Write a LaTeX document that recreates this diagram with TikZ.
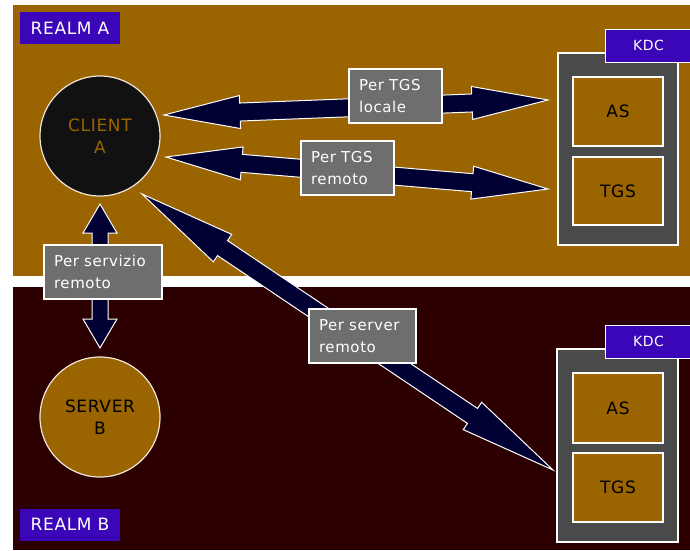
\documentclass[tikz,border=0pt]{standalone}
\usepackage{fontspec}
\setmainfont{DejaVu Sans}[LetterSpace=4.0]
\usetikzlibrary{calc}

\definecolor{realmAbg}{HTML}{9A6400}
\definecolor{realmBbg}{HTML}{2C0000}
\definecolor{tagblue}{HTML}{3A06B8}
\definecolor{kdcgray}{HTML}{4A4A4A}
\definecolor{lblgray}{HTML}{6E6E6E}
\definecolor{arrownavy}{HTML}{000033}
\definecolor{clientblack}{HTML}{111111}
\definecolor{rim}{HTML}{F0E6D8}

% Double-headed block arrow between two named points:
% #1,#2 tips, #3 head length, #4 head half width, #5 shaft half width
\newcommand\dblarrow[5]{%
  \path ($(#1)!#3!(#2)$) coordinate (da-p) ($(#2)!#3!(#1)$) coordinate (da-q);
  \filldraw[arrowbody] (#1)
    -- ($(da-p)!#4!90:(#2)$) -- ($(da-p)!#5!90:(#2)$)
    -- ($(da-q)!#5!-90:(#1)$) -- ($(da-q)!#4!-90:(#1)$)
    -- (#2)
    -- ($(da-q)!#4!90:(#1)$) -- ($(da-q)!#5!90:(#1)$)
    -- ($(da-p)!#5!-90:(#2)$) -- ($(da-p)!#4!-90:(#2)$)
    -- cycle;
}

\begin{document}
\begin{tikzpicture}[x=1pt,y=-1pt,
  realmtag/.style={fill=tagblue, text=white, inner sep=0pt,
    minimum width=100pt, minimum height=32pt, font=\fontsize{17}{20}\selectfont},
  kdctag/.style={fill=tagblue, draw=white, line width=1pt, text=white, inner sep=0pt,
    minimum width=87pt, minimum height=33pt, font=\fontsize{14}{16}\selectfont},
  kdcframe/.style={fill=kdcgray, draw=white, line width=1.5pt, inner sep=0pt,
    minimum width=120pt, minimum height=192pt},
  service/.style={fill=realmAbg, draw=white, line width=1.5pt, inner sep=0pt,
    minimum width=90pt, minimum height=69pt, text=black, font=\fontsize{17}{20}\selectfont},
  host/.style={circle, draw=rim, line width=1.2pt, minimum size=120pt, inner sep=0pt,
    align=center, font=\fontsize{17}{22}\selectfont},
  lbl/.style={fill=lblgray, draw=white, line width=1.2pt, text=white,
    inner xsep=10pt, inner ysep=0pt, minimum height=54pt, align=left,
    font=\fontsize{15}{22}\selectfont},
  arrowbody/.style={fill=arrownavy, draw=white, line width=1pt, line join=miter}]

\useasboundingbox (0,0) rectangle (690,550);
\fill[white] (0,0) rectangle (690,550);

% the two realms
\fill[realmAbg] (13,5) rectangle (690,276);
\fill[realmBbg] (13,287) rectangle (690,550);

\node[realmtag] (realmA) at (70,28) {REALM A};
\node[realmtag] (realmB) at (70,524.5) {REALM B};

% hosts
\node[host, fill=clientblack, text=realmAbg] (client) at (100,136) {CLIENT\\A};
\node[host, fill=realmAbg, text=black] (server) at (100,417) {SERVER\\B};

% KDC of realm A
\node[kdcframe] (kdcA) at (618,149) {};
\node[service] (asA) at (618,111.5) {AS};
\node[service, minimum height=68pt] (tgsA) at (618,191) {TGS};
\node[kdctag] (kdcAtag) at (648.5,45.5) {KDC};

% KDC of realm B
\node[kdcframe, minimum width=121pt, minimum height=193pt] (kdcB) at (617.5,445.5) {};
\node[service, minimum height=70pt] (asB) at (618,408) {AS};
\node[service] (tgsB) at (618,487.5) {TGS};
\node[kdctag] (kdcBtag) at (648.5,341.5) {KDC};

% arrow end points
\coordinate (locC) at (164,115);
\coordinate (locK) at (548,100);
\coordinate (remC) at (166,157);
\coordinate (remK) at (548,189);
\coordinate (srvC) at (100,204);
\coordinate (srvS) at (100,348);
\coordinate (farC) at (142,194);
\coordinate (farK) at (553,470);

\dblarrow{locC}{locK}{76pt}{16.5pt}{9pt}
\dblarrow{remC}{remK}{76pt}{16.5pt}{9pt}
\dblarrow{srvC}{srvS}{29pt}{17pt}{8pt}
\dblarrow{farC}{farK}{97pt}{16.5pt}{9pt}

% arrow labels
\node[lbl, text width=73pt] (lblLocale) at (395.5,96) {Per~TGS\\locale};
\node[lbl, text width=73pt] (lblRemote) at (347.5,168) {Per~TGS\\remoto};
\node[lbl, text width=98pt] (lblService) at (103,272) {Per~servizio\\remoto};
\node[lbl, text width=87pt] (lblServer) at (362.5,336) {Per~server\\remoto};

\end{tikzpicture}
\end{document}
